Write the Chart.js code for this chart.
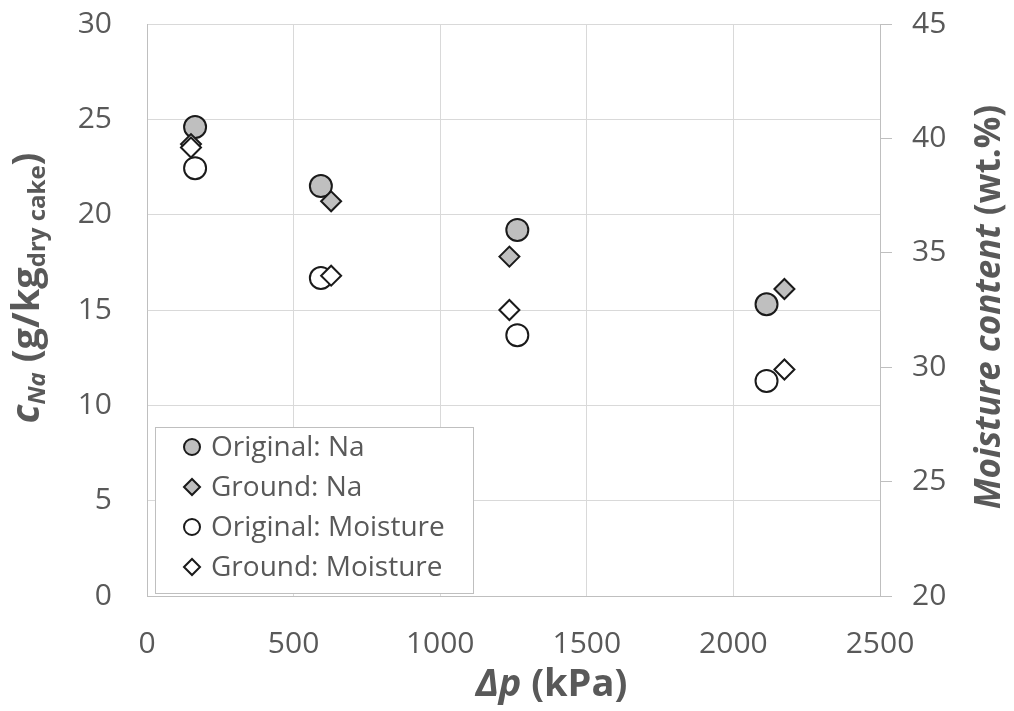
<!DOCTYPE html>
<html>
<head>
<meta charset="utf-8">
<script src="https://cdn.jsdelivr.net/npm/chart.js@4.4.1/dist/chart.umd.min.js"></script>
<style>
  html, body { margin: 0; padding: 0; background: #fff; }
  canvas { display: block; }
</style>
</head>
<body>
<canvas id="chart" width="1014" height="711"></canvas>
<script>
// Pressure difference (kPa) for the two cake types
const xOriginal = [164, 593, 1263, 2113];
const xGround = [150, 628, 1236, 2174];

// Na content, g/kg dry cake (left axis)
const naOriginal = [24.6, 21.5, 19.2, 15.3];
const naGround = [23.7, 20.7, 17.8, 16.1];

// Moisture content, wt.% (right axis)
const moistureOriginal = [38.7, 33.9, 31.4, 29.4];
const moistureGround = [39.6, 34.0, 32.5, 29.9];

const xTicks = [0, 500, 1000, 1500, 2000, 2500];
const leftTicks = [0, 5, 10, 15, 20, 25, 30];
const rightTicks = [20, 25, 30, 35, 40, 45];

const TEXT = '#595959';
const GRID = '#d9d9d9';
const AXIS = '#bfbfbf';
const EDGE = '#1a1a1a';
const FONT = "'Open Sans', sans-serif";

Chart.defaults.font.family = FONT;
Chart.defaults.color = TEXT;

function toPoints(xs, ys) {
  return xs.map((x, i) => ({ x: x, y: ys[i] }));
}

// draws a line of mixed-style text centred on (0,0) of the current transform
function drawRich(ctx, parts) {
  let total = 0;
  parts.forEach(p => {
    ctx.font = p.font;
    p.w = ctx.measureText(p.text).width;
    total += p.w;
  });
  let x = -total / 2;
  ctx.textBaseline = 'middle';
  ctx.textAlign = 'left';
  parts.forEach(p => {
    ctx.font = p.font;
    ctx.fillText(p.text, x, p.dy || 0);
    x += p.w;
  });
}

const titlesPlugin = {
  id: 'titles',
  afterDraw(chart) {
    const ctx = chart.ctx;
    const area = chart.chartArea;
    ctx.save();
    ctx.fillStyle = TEXT;

    // x title
    ctx.save();
    ctx.translate((area.left + area.right) / 2 + 38, 685);
    drawRich(ctx, [
      { text: 'Δp', font: `italic bold 38px ${FONT}` },
      { text: ' (kPa)', font: `bold 38px ${FONT}` }
    ]);
    ctx.restore();

    // left title
    ctx.save();
    ctx.translate(28, 288);
    ctx.rotate(-Math.PI / 2);
    drawRich(ctx, [
      { text: 'c', font: `italic bold 39px ${FONT}` },
      { text: 'Na', font: `italic bold 24px ${FONT}`, dy: 10 },
      { text: ' (g/kg', font: `bold 38px ${FONT}` },
      { text: 'dry cake', font: `bold 24px ${FONT}`, dy: 10 },
      { text: ')', font: `bold 38px ${FONT}` }
    ]);
    ctx.restore();

    // right title
    ctx.save();
    ctx.translate(990, 307);
    ctx.rotate(-Math.PI / 2);
    drawRich(ctx, [
      { text: 'Moisture content', font: `italic bold 35px ${FONT}` },
      { text: ' (wt.%)', font: `bold 35px ${FONT}` }
    ]);
    ctx.restore();

    ctx.restore();
  }
};

const legendPlugin = {
  id: 'boxLegend',
  afterDraw(chart) {
    const ctx = chart.ctx;
    const area = chart.chartArea;
    const left = area.left + 8;
    const top = area.bottom - 169;
    const w = 318, h = 166;
    ctx.save();
    ctx.fillStyle = '#fff';
    ctx.fillRect(left, top, w, h);
    ctx.strokeStyle = AXIS;
    ctx.lineWidth = 1;
    ctx.strokeRect(left + 0.5, top + 0.5, w, h);

    chart.data.datasets.forEach((ds, i) => {
      const y = top + 20 + i * 40;
      ctx.fillStyle = ds.backgroundColor;
      ctx.strokeStyle = ds.borderColor;
      ctx.lineWidth = 2;
      Chart.helpers.drawPoint(ctx, {
        pointStyle: ds.pointStyle,
        radius: 8,
        borderWidth: 2,
        rotation: 0
      }, left + 37, y);
      ctx.fillStyle = TEXT;
      ctx.font = `28px ${FONT}`;
      ctx.textAlign = 'left';
      ctx.textBaseline = 'middle';
      ctx.fillText(ds.label, left + 56, y + 1);
    });
    ctx.restore();
  }
};

const plainTick = v => String(v);

// keep the axis labels from pushing the plot area inward
const fixVertical = width => axis => {
  axis.width = width;
  axis.paddingTop = 0;
  axis.paddingBottom = 0;
};

const ctx = document.getElementById('chart').getContext('2d');

new Chart(ctx, {
  type: 'scatter',
  data: {
    datasets: [
      {
        label: 'Original: Na',
        data: toPoints(xOriginal, naOriginal),
        yAxisID: 'y',
        pointStyle: 'circle',
        pointRadius: 11,
        backgroundColor: '#bfbfbf',
        borderColor: EDGE,
        borderWidth: 2,
        order: 4
      },
      {
        label: 'Ground: Na',
        data: toPoints(xGround, naGround),
        yAxisID: 'y',
        pointStyle: 'rectRot',
        pointRadius: 10,
        backgroundColor: '#bfbfbf',
        borderColor: EDGE,
        borderWidth: 2,
        order: 3
      },
      {
        label: 'Original: Moisture',
        data: toPoints(xOriginal, moistureOriginal),
        yAxisID: 'y2',
        pointStyle: 'circle',
        pointRadius: 11,
        backgroundColor: '#ffffff',
        borderColor: EDGE,
        borderWidth: 2,
        order: 2
      },
      {
        label: 'Ground: Moisture',
        data: toPoints(xGround, moistureGround),
        yAxisID: 'y2',
        pointStyle: 'rectRot',
        pointRadius: 10,
        backgroundColor: '#ffffff',
        borderColor: EDGE,
        borderWidth: 2,
        order: 1
      }
    ]
  },
  options: {
    responsive: false,
    animation: false,
    layout: { padding: { top: 24, left: 0, right: 0, bottom: 0 } },
    plugins: {
      legend: { display: false },
      tooltip: { enabled: false }
    },
    scales: {
      x: {
        type: 'linear',
        min: 0,
        max: 2500,
        afterBuildTicks: axis => { axis.ticks = xTicks.map(v => ({ value: v })); },
        afterFit: axis => { axis.height = 115; },
        grid: { color: GRID, drawTicks: false },
        border: { color: AXIS },
        ticks: { color: TEXT, padding: 30, font: { size: 30 }, callback: plainTick }
      },
      y: {
        position: 'left',
        min: 0,
        max: 30,
        afterBuildTicks: axis => { axis.ticks = leftTicks.map(v => ({ value: v })); },
        afterFit: fixVertical(147),
        grid: { color: GRID, drawTicks: false },
        border: { color: AXIS },
        ticks: { color: TEXT, padding: 35, font: { size: 30 }, callback: plainTick }
      },
      y2: {
        position: 'right',
        min: 20,
        max: 45,
        afterBuildTicks: axis => { axis.ticks = rightTicks.map(v => ({ value: v })); },
        afterFit: fixVertical(134),
        grid: { drawOnChartArea: false, color: AXIS, drawTicks: true, tickLength: 12 },
        border: { color: AXIS },
        ticks: { color: TEXT, padding: 20, font: { size: 30 }, callback: plainTick }
      }
    }
  },
  plugins: [titlesPlugin, legendPlugin]
});
</script>
</body>
</html>
